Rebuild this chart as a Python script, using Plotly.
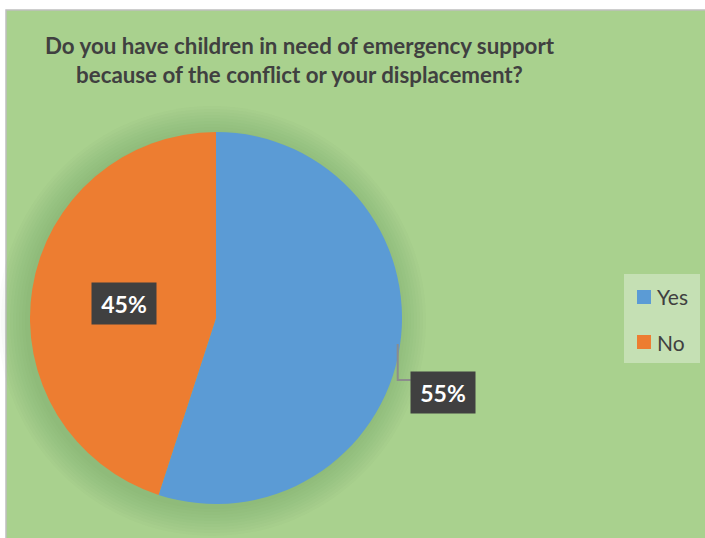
import math
import plotly.graph_objects as go

labels = ["Yes", "No"]
values = [55, 45]
colors = ["#5B9BD5", "#ED7D31"]
title_text = "Do you have children in need of emergency support<br>because of the conflict or your displacement?"

W, H = 705, 538
def px(x):
    return x / W
def py(y):
    return 1 - y / H

FONT = "Lato, Open Sans, sans-serif"
# pie geometry (pixels)
cx, cy, r = 216, 318, 186

fig = go.Figure()
fig.add_trace(go.Pie(
    labels=labels, values=values, sort=False, direction="clockwise", rotation=0,
    marker=dict(colors=colors, line=dict(width=0)),
    textinfo="none", hoverinfo="label+percent", showlegend=False,
    domain=dict(x=[px(cx - r), px(cx + r)], y=[py(cy + r), py(cy - r)]),
))

shapes = []
# chart area background
shapes.append(dict(type="rect", xref="paper", yref="paper", x0=px(6), x1=1.01, y0=-0.01, y1=py(10),
                   fillcolor="#A9D18E", line=dict(color="#BFBFBF", width=1.5), layer="below"))
# soft shadow around pie
for k in range(2, 32, 3):
    shapes.append(dict(type="circle", xref="paper", yref="paper",
                       x0=px(cx - r - k - 3), x1=px(cx + r + k - 5),
                       y0=py(cy + r + k + 3), y1=py(cy - r - k + 3),
                       fillcolor="rgba(70,100,40,0.018)", line=dict(width=0), layer="below"))

annotations = []
total = sum(values)
cum = 0
for i, (lab, v) in enumerate(zip(labels, values)):
    mid = (cum + v / 2) / total * 2 * math.pi
    cum += v
    pct = "%d%%" % round(v / total * 100)
    if i == 0:
        # outside label with leader line
        ex, ey = cx + r * math.sin(mid), cy - r * math.cos(mid)
        lx, ly = ex + 11, ey + 33
        shapes.append(dict(type="path", xref="paper", yref="paper",
                           path="M %f %f L %f %f L %f %f" % (px(ex - 2), py(ey - 3), px(ex - 2), py(ly), px(lx), py(ly)),
                           line=dict(color="#8C8C8C", width=2)))
        bx, by = lx + 32, ly + 12
    else:
        rr = 0.5 * r
        bx, by = cx + rr * math.sin(mid), cy - rr * math.cos(mid)
    annotations.append(dict(x=px(bx), y=py(by), xref="paper", yref="paper", text="<b>%s</b>" % pct,
                            xanchor="center", yanchor="middle",
                            showarrow=False, bgcolor="#404040", width=62, height=39,
                            font=dict(family=FONT, size=23, color="white")))

# custom legend
shapes.append(dict(type="rect", xref="paper", yref="paper", x0=px(624), x1=px(700), y0=py(363), y1=py(274),
                   fillcolor="#C5E0B4", line=dict(width=0)))
for i, (lab, c) in enumerate(zip(labels, colors)):
    yc = 297 + 45 * i
    shapes.append(dict(type="rect", xref="paper", yref="paper", x0=px(637), x1=px(651), y0=py(yc + 7), y1=py(yc - 7),
                       fillcolor=c, line=dict(width=0)))
    annotations.append(dict(x=px(655), y=py(yc), xref="paper", yref="paper", text=lab, xanchor="left",
                            yanchor="middle",
                            showarrow=False, font=dict(family=FONT, size=21, color="#404040")))

# title
annotations.append(dict(x=px(300), y=py(60), xref="paper", yref="paper", text="<b>%s</b>" % title_text,
                        showarrow=False, xanchor="center", yanchor="middle", align="center",
                        font=dict(family=FONT, size=22.3, color="#404040")))

fig.update_layout(
    width=W, height=H, margin=dict(l=0, r=0, t=0, b=0),
    paper_bgcolor="white",
    shapes=shapes, annotations=annotations, showlegend=False,
)
fig.write_html("out.html", config={"displayModeBar": False},
               post_script="document.body.style.margin='0';document.body.style.overflow='hidden';")
